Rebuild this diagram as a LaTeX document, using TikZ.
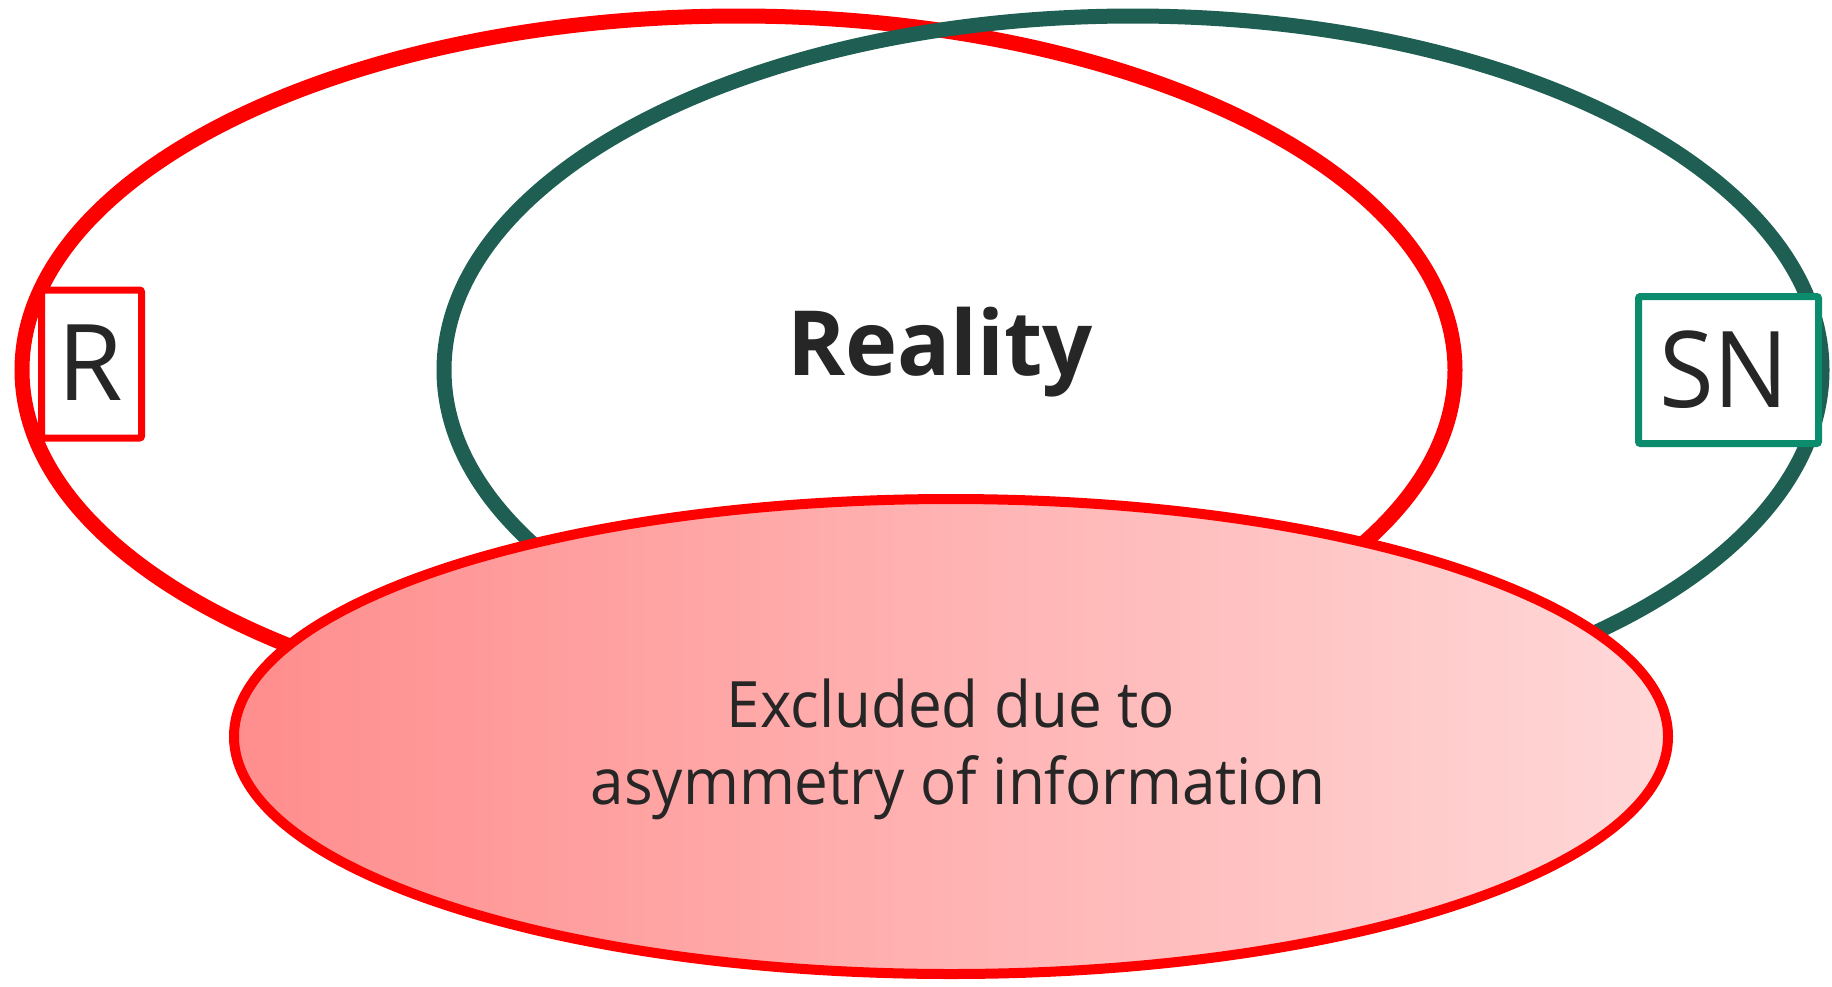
\documentclass[tikz,border=0pt]{standalone}
\usepackage{fontspec}
\setmainfont{Open Sans}
\newfontfamily\narrowsans[FakeStretch=0.94]{Open Sans}
\newfontfamily\titlesans[FakeStretch=0.98]{Open Sans}
\definecolor{ringred}{HTML}{FF0000}
\definecolor{ringteal}{HTML}{1F5E52}
\definecolor{boxteal}{HTML}{0B8C6C}
\definecolor{ink}{HTML}{262626}
\definecolor{pinkdark}{HTML}{FF8D8D}
\definecolor{pinklight}{HTML}{FFD8D8}
\begin{document}
\begin{tikzpicture}[x=1pt,y=-1pt,
  ring/.style={line width=15pt},
  tagbox/.style={line width=7pt, fill=white, rounded corners=2pt, inner sep=0pt},
  txt/.style={text=ink, anchor=base, inner sep=0pt},
]
\useasboundingbox (0,0) rectangle (1832,986);

% the two overlapping rings
\draw[ring, ringred]  (738.5,370) ellipse [x radius=716.5, y radius=354];
\draw[ring, ringteal] (1133,370)  ellipse [x radius=689,   y radius=354];

% labels on the ring edges
\node[tagbox, draw=ringred, minimum width=100pt, minimum height=148pt] (rbox) at (91.5,364) {};
\node[tagbox, draw=boxteal, minimum width=180pt, minimum height=147pt] (snbox) at (1728.5,370) {};
\node[txt, font=\fontsize{106}{106}\selectfont] (rtext) at (90,400) {R};
\node[txt, font=\narrowsans\fontsize{106}{106}\selectfont] (sntext) at (1724,407) {SN};

% centre title
\node[txt, font=\titlesans\bfseries\fontsize{90}{90}\selectfont] (reality) at (940,375) {Reality};

% excluded region
\draw[line width=10pt, ringred, left color=pinkdark, right color=pinklight]
  (951,736.5) ellipse [x radius=717, y radius=237.5];
\node[txt, font=\narrowsans\fontsize{64}{77}\selectfont] (excl1) at (951,727) {Excluded due to};
\node[txt, font=\narrowsans\fontsize{64}{77}\selectfont] (excl2) at (958,804) {asymmetry of information};
\end{tikzpicture}
\end{document}
